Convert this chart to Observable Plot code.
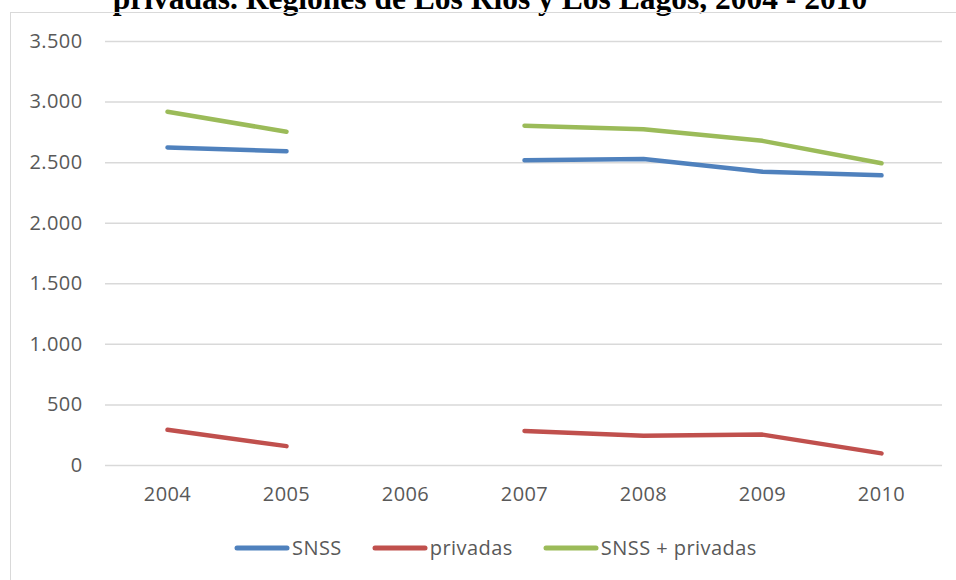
<!DOCTYPE html>
<html>
<head>
<meta charset="utf-8">
<script src="https://cdn.jsdelivr.net/npm/d3@7"></script>
<script src="https://cdn.jsdelivr.net/npm/@observablehq/plot@0.6"></script>
<style>
  html, body { margin: 0; padding: 0; background: #fff; }
  #wrap { position: relative; width: 956px; height: 580px; overflow: hidden; }
  #title { position: absolute; left: 12px; width: 956px; top: -17px; text-align: center; line-height: 1;
    font-family: "Liberation Serif", serif; font-weight: bold; font-size: 31.5px; color: #000; white-space: nowrap; }
  #frame { position: absolute; left: 10px; top: 12px; width: 960px; height: 600px;
    border-left: 1.5px solid #d9d9d9; border-top: 1.5px solid #d9d9d9; }
  #chart { position: absolute; left: 0; top: 0; }
  #legend { position: absolute; top: 534px; left: 233px; display: flex;
    font-family: "Open Sans", sans-serif; font-size: 20px; color: #595959; }
  .item { display: flex; align-items: center; margin-right: 29px; letter-spacing: 0.45px; }
  .item svg { margin-right: 1px; }
</style>
</head>
<body>
<div id="wrap">
  <div id="title">privadas. Regiones de Los Ríos y Los Lagos, 2004 - 2010</div>
  <div id="frame"></div>
  <div id="chart"></div>
  <div id="legend"></div>
</div>
<script>
const years = ["2004", "2005", "2006", "2007", "2008", "2009", "2010"];
const snss = [2625, 2595, null, 2520, 2530, 2425, 2395];
const privadas = [295, 160, null, 285, 245, 255, 100];
const total = [2920, 2755, null, 2805, 2775, 2680, 2495];
const seriesNames = ["SNSS", "privadas", "SNSS + privadas"];
const seriesColors = ["#4f81bd", "#c0504d", "#9bbb59"];
const yTicks = [0, 500, 1000, 1500, 2000, 2500, 3000, 3500];

const allSeries = [snss, privadas, total];
const data = [];
allSeries.forEach((vals, i) => {
  years.forEach((y, j) => data.push({ year: y, value: vals[j], series: seriesNames[i] }));
});

const fmt = d => d3.format(",")(d).replace(/,/g, ".");

const plot = Plot.plot({
  width: 956,
  height: 580,
  marginTop: 41,
  marginBottom: 115,
  marginLeft: 105,
  marginRight: 14,
  style: { background: "transparent", fontFamily: "Open Sans, sans-serif", fontSize: "20px", color: "#595959", overflow: "visible" },
  x: { type: "point", domain: years, padding: 0.5, label: null },
  y: { domain: [0, 3500], ticks: yTicks, label: null },
  color: { domain: seriesNames, range: seriesColors },
  marks: [
    Plot.ruleY(yTicks, { stroke: "#d9d9d9", strokeWidth: 1.5 }),
    Plot.axisY({ ticks: yTicks, tickSize: 0, tickPadding: 23, tickFormat: fmt, fill: "#595959", fontSize: 20, label: null }),
    Plot.axisX({ tickSize: 0, tickPadding: 21, fill: "#595959", fontSize: 20, label: null }),
    Plot.line(data, { x: "year", y: "value", z: "series", stroke: "series", strokeWidth: 4.5, strokeLinecap: "round", strokeLinejoin: "round", curve: "linear" })
  ]
});
plot.querySelectorAll("text").forEach(t => t.setAttribute("letter-spacing", "0.4"));
document.getElementById("chart").appendChild(plot);

const legend = document.getElementById("legend");
seriesNames.forEach((name, i) => {
  const item = document.createElement("div");
  item.className = "item";
  item.innerHTML = `<svg width="58" height="10"><line x1="4" y1="5" x2="54" y2="5" stroke="${seriesColors[i]}" stroke-width="5" stroke-linecap="round"/></svg><span>${name}</span>`;
  legend.appendChild(item);
});
</script>
</body>
</html>
